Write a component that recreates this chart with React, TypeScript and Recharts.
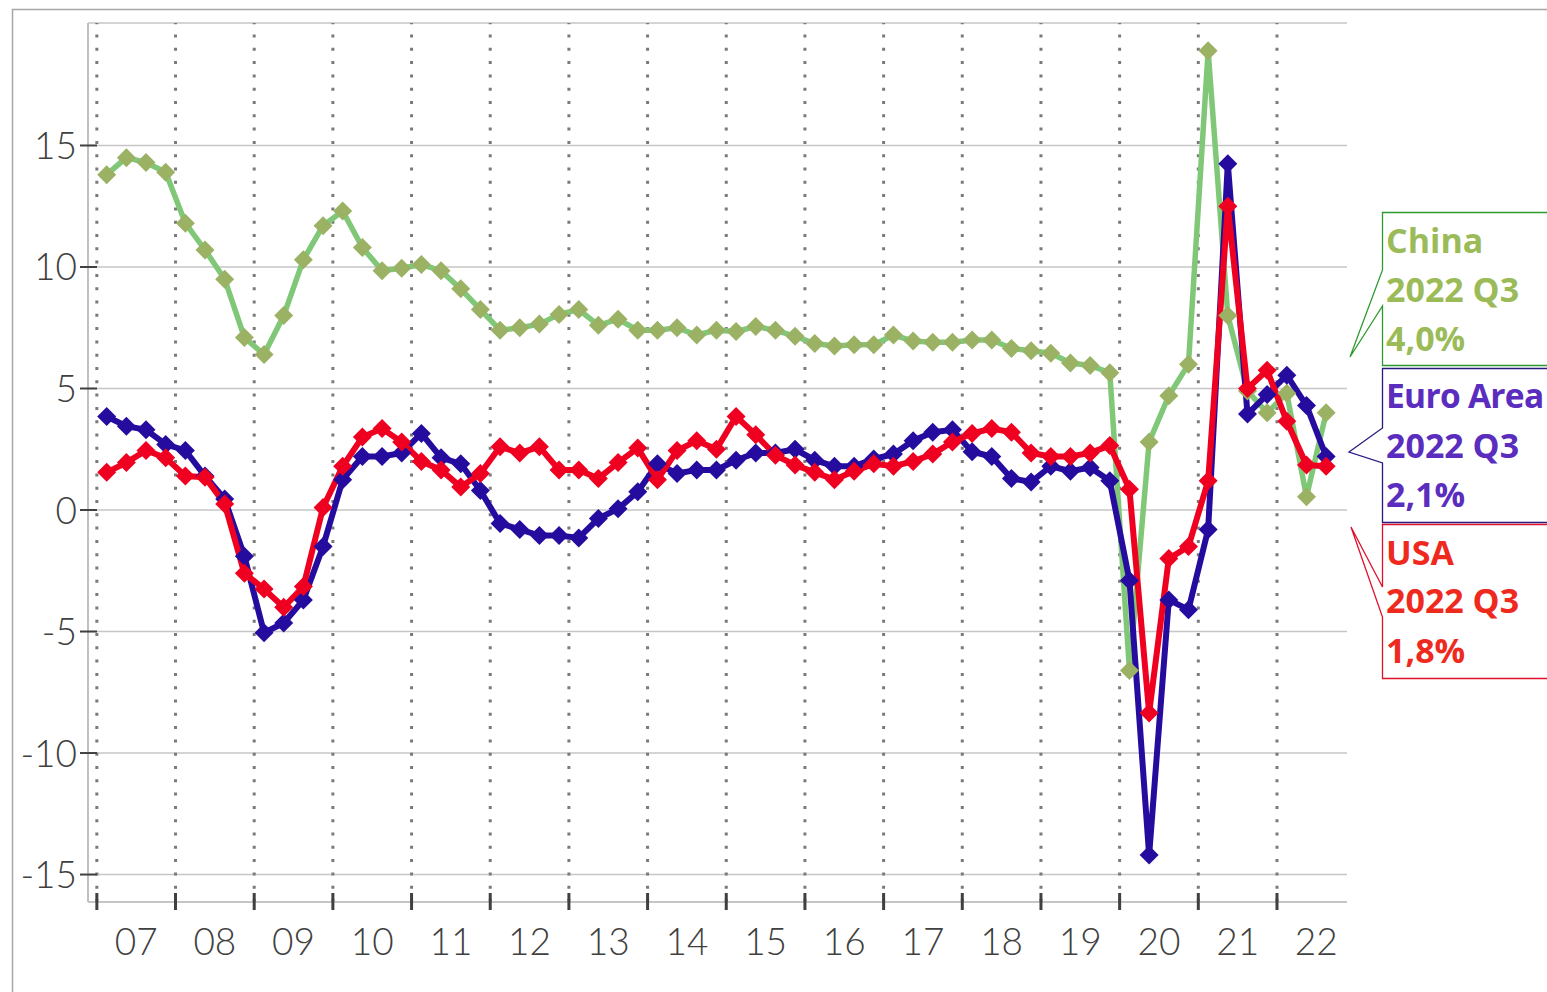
import React from 'react';
import { LineChart, Line, XAxis, YAxis, CartesianGrid, ReferenceLine } from 'recharts';

const quarters = [
  '07Q1','07Q2','07Q3','07Q4','08Q1','08Q2','08Q3','08Q4',
  '09Q1','09Q2','09Q3','09Q4','10Q1','10Q2','10Q3','10Q4',
  '11Q1','11Q2','11Q3','11Q4','12Q1','12Q2','12Q3','12Q4',
  '13Q1','13Q2','13Q3','13Q4','14Q1','14Q2','14Q3','14Q4',
  '15Q1','15Q2','15Q3','15Q4','16Q1','16Q2','16Q3','16Q4',
  '17Q1','17Q2','17Q3','17Q4','18Q1','18Q2','18Q3','18Q4',
  '19Q1','19Q2','19Q3','19Q4','20Q1','20Q2','20Q3','20Q4',
  '21Q1','21Q2','21Q3','21Q4','22Q1','22Q2','22Q3',
];

const china = [
  13.8, 14.5, 14.3, 13.9,
  11.8, 10.7, 9.5, 7.1,
  6.4, 8.0, 10.3, 11.7,
  12.3, 10.8, 9.85, 9.95,
  10.1, 9.85, 9.1, 8.25,
  7.4, 7.5, 7.65, 8.05,
  8.25, 7.6, 7.85, 7.4,
  7.4, 7.5, 7.2, 7.4,
  7.35, 7.55, 7.4, 7.15,
  6.85, 6.75, 6.8, 6.8,
  7.2, 6.95, 6.9, 6.9,
  7.0, 7.0, 6.65, 6.55,
  6.45, 6.05, 5.95, 5.65,
  -6.6, 2.8, 4.7, 6.0,
  18.9, 8.0, 4.9, 4.0,
  4.8, 0.55, 4.0,
];

const euro = [
  3.85, 3.45, 3.3, 2.7,
  2.45, 1.4, 0.45, -1.9,
  -5.05, -4.65, -3.7, -1.5,
  1.25, 2.2, 2.2, 2.35,
  3.15, 2.15, 1.9, 0.8,
  -0.55, -0.8, -1.05, -1.05,
  -1.15, -0.35, 0.05, 0.75,
  1.9, 1.5, 1.65, 1.65,
  2.05, 2.35, 2.35, 2.5,
  2.05, 1.8, 1.8, 2.1,
  2.3, 2.85, 3.2, 3.3,
  2.4, 2.2, 1.3, 1.15,
  1.8, 1.6, 1.75, 1.2,
  -2.9, -14.2, -3.7, -4.1,
  -0.8, 14.25, 3.95, 4.75,
  5.55, 4.3, 2.2,
];

const usa = [
  1.55, 1.95, 2.45, 2.15,
  1.4, 1.35, 0.25, -2.6,
  -3.25, -4.0, -3.15, 0.1,
  1.8, 3.0, 3.35, 2.8,
  2.0, 1.65, 0.95, 1.5,
  2.6, 2.35, 2.6, 1.65,
  1.65, 1.3, 1.95, 2.55,
  1.25, 2.45, 2.85, 2.5,
  3.85, 3.1, 2.25, 1.85,
  1.55, 1.25, 1.6, 1.9,
  1.8, 2.0, 2.3, 2.8,
  3.15, 3.35, 3.2, 2.35,
  2.2, 2.2, 2.35, 2.65,
  0.85, -8.35, -2.0, -1.5,
  1.2, 12.5, 5.0, 5.75,
  3.65, 1.85, 1.8,
];

const yearLabels = ['07','08','09','10','11','12','13','14','15','16','17','18','19','20','21','22'];
const yTicks = [-15, -10, -5, 0, 5, 10, 15];
const yearStarts = [-0.5, 3.5, 7.5, 11.5, 15.5, 19.5, 23.5, 27.5, 31.5, 35.5, 39.5, 43.5, 47.5, 51.5, 55.5, 59.5];

const data = quarters.map((q, i) => ({ i, q, china: china[i], euro: euro[i], usa: usa[i] }));

const W = 1547;
const H = 992;
const M = { top: 23, right: 200, bottom: 30, left: 8 };
const Y_AXIS_W = 80;
const X_AXIS_H = 60;
const X_DOMAIN: [number, number] = [-0.95, 63.06];
const Y_DOMAIN: [number, number] = [-16.13, 20.04];
const PLOT_W = W - M.left - M.right - Y_AXIS_W;
const QUARTER_PX = PLOT_W / (X_DOMAIN[1] - X_DOMAIN[0]);

const axisFont = 'Lato, "Open Sans", sans-serif';
const labelFont = '"Open Sans", "Noto Sans", sans-serif';
const axisColor = '#404040';

const XTick = (props: any) => {
  const { x, y, payload } = props;
  const k = yearStarts.indexOf(payload.value);
  return (
    <g>
      <line x1={x} x2={x} y1={y - 9} y2={y + 8} stroke={axisColor} strokeWidth={3} />
      <text x={x + 2 * QUARTER_PX} y={y + 53} textAnchor="middle" fontFamily={axisFont} fontWeight={300} fontSize={37} fill={axisColor}>
        {yearLabels[k]}
      </text>
    </g>
  );
};

const YTick = (props: any) => {
  const { x, y, payload } = props;
  return (
    <g>
      <line x1={x - 8} x2={x + 9} y1={y} y2={y} stroke={axisColor} strokeWidth={2} />
      <text x={x - 11} y={y + 13.5} textAnchor="end" fontFamily={axisFont} fontWeight={300} fontSize={37} fill={axisColor}>
        {String(payload.value)}
      </text>
    </g>
  );
};

const diamond = (fill: string, prefix: string) => (p: any) => {
  const { cx, cy, index } = p;
  if (cx == null || cy == null) return <g key={`${prefix}-${index}`} />;
  const r = 9.5;
  return (
    <polygon
      key={`${prefix}-${index}`}
      points={`${cx},${cy - r} ${cx + r},${cy} ${cx},${cy + r} ${cx - r},${cy}`}
      fill={fill}
    />
  );
};

const Callouts = () => (
  <svg width={W} height={H} style={{ position: 'absolute', left: 0, top: 0, pointerEvents: 'none' }}>
    <polyline points={`12.5,${H} 12.5,9.5 ${W},9.5`} fill="none" stroke="#a6a6a6" strokeWidth={1.5} />
    <path d="M1550,212.5 L1382.5,212.5 L1382.5,270 L1350,357 L1382.5,306 L1382.5,365.5 L1550,365.5" fill="#ffffff" stroke="#2e9a2e" strokeWidth={1.3} />
    <g fontFamily={labelFont} fontWeight={700} fontSize={34} fill="#9bbb59">
      <text x={1386} y={253}>China</text>
      <text x={1386} y={302}>2022 Q3</text>
      <text x={1386} y={351}>4,0%</text>
    </g>
    <path d="M1550,368.5 L1382.5,368.5 L1382.5,428 L1349,452 L1382.5,463 L1382.5,522.5 L1550,522.5" fill="#ffffff" stroke="#2a1a80" strokeWidth={1.3} />
    <g fontFamily={labelFont} fontWeight={700} fontSize={34} fill="#5a2dbe">
      <text x={1386} y={408} fontSize={33.5} letterSpacing={-0.7}>Euro Area</text>
      <text x={1386} y={458}>2022 Q3</text>
      <text x={1386} y={507}>2,1%</text>
    </g>
    <path d="M1550,524.5 L1382.5,524.5 L1382.5,587 L1351,527 L1382.5,617 L1382.5,678.5 L1550,678.5" fill="#ffffff" stroke="#e0102a" strokeWidth={1.3} />
    <g fontFamily={labelFont} fontWeight={700} fontSize={34} fill="#ee2a1e">
      <text x={1386} y={565}>USA</text>
      <text x={1386} y={613}>2022 Q3</text>
      <text x={1386} y={663}>1,8%</text>
    </g>
  </svg>
);

export default function App() {
  return (
    <div style={{ position: 'absolute', left: 0, top: 0, width: W, height: H, background: '#ffffff', overflow: 'hidden' }}>
      <LineChart width={W} height={H} data={data} margin={M}>
        <CartesianGrid horizontal vertical={false} stroke="#c6c6c6" strokeWidth={1.5} />
        {yearStarts.map((v) => (
          <ReferenceLine key={`yl-${v}`} x={v} stroke="#7a7a7a" strokeWidth={3} strokeDasharray="3 10.3" />
        ))}
        <XAxis
          dataKey="i"
          type="number"
          domain={X_DOMAIN}
          allowDataOverflow
          ticks={yearStarts}
          interval={0}
          height={X_AXIS_H}
          tickSize={0}
          tickMargin={0}
          tickLine={false}
          axisLine={{ stroke: '#c0c0c0', strokeWidth: 1.5 }}
          tick={<XTick />}
        />
        <YAxis
          type="number"
          domain={Y_DOMAIN}
          allowDataOverflow
          ticks={yTicks}
          interval={0}
          width={Y_AXIS_W}
          tickSize={0}
          tickMargin={0}
          tickLine={false}
          axisLine={{ stroke: '#c0c0c0', strokeWidth: 2 }}
          tick={<YTick />}
        />
        <Line dataKey="china" stroke="#80c878" strokeWidth={5.5} dot={diamond('#9bb264', 'c')} activeDot={false} isAnimationActive={false} />
        <Line dataKey="euro" stroke="#260c9e" strokeWidth={6} dot={diamond('#260c9e', 'e')} activeDot={false} isAnimationActive={false} />
        <Line dataKey="usa" stroke="#f00020" strokeWidth={6} dot={diamond('#f00020', 'u')} activeDot={false} isAnimationActive={false} />
      </LineChart>
      <Callouts />
    </div>
  );
}
